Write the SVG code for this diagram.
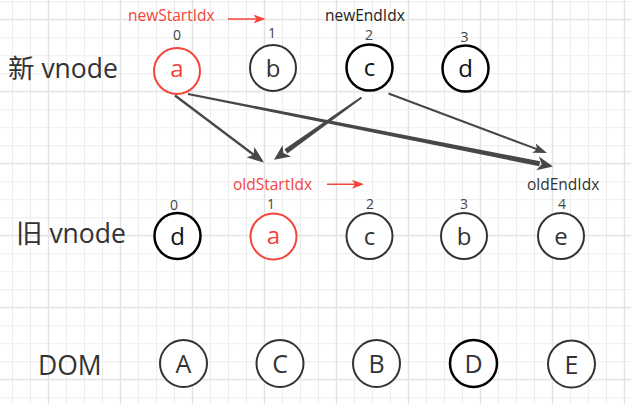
<svg xmlns="http://www.w3.org/2000/svg" width="631" height="404" viewBox="0 0 631 404">
  <defs>
    <pattern id="grid" patternUnits="userSpaceOnUse" x="12" y="1.2" width="72" height="72">
      <path d="M0.5,0V72M18.5,0V72M54.5,0V72M0,0.5H72M0,36.5H72M0,54.5H72" stroke="#ededed" stroke-width="1" fill="none"/>
      <path d="M36.5,0V72M0,18.5H72" stroke="#e2e2e2" stroke-width="1.4" fill="none"/>
    </pattern>
    <marker id="ah" markerUnits="userSpaceOnUse" viewBox="0 0 14 10" markerWidth="14" markerHeight="10" refX="11" refY="5" orient="auto">
      <path d="M0,0 L14,5 L0,10 L3.5,5 z" fill="#474747"/>
    </marker>
    <marker id="ahL" markerUnits="userSpaceOnUse" viewBox="0 0 17 13" markerWidth="17" markerHeight="13" refX="14" refY="6.5" orient="auto">
      <path d="M0,0 L17,6.5 L0,13 L4,6.5 z" fill="#474747"/>
    </marker>
    <marker id="ahR" markerUnits="userSpaceOnUse" viewBox="0 0 12 9" markerWidth="12" markerHeight="9" refX="10" refY="4.5" orient="auto">
      <path d="M0,0 L12,4.5 L0,9 L3,4.5 z" fill="#f5443a"/>
    </marker>
    <style>
      text { font-family: "Open Sans", "Noto Sans CJK SC", sans-serif; fill: #333; }
      .row { font-size: 26.5px; }
      .idx { font-size: 14px; text-anchor: middle; fill: #444; }
      .ptr { font-size: 15.5px; }
      .red { fill: #f5443a; }
      .lbl { font-size: 24px; text-anchor: middle; }
      .dom { font-size: 25px; text-anchor: middle; }
      circle { fill: #fff; stroke-width: 2; }
      .cr { stroke: #f5443a; }
      .cg { stroke: #333; }
      .ck { stroke: #000; stroke-width: 2.5; }
      .conn { fill: #474747; }
    </style>
  </defs>
  <rect width="631" height="404" fill="#fff"/>
  <rect width="631" height="404" fill="url(#grid)"/>

  <!-- row labels -->
  <text class="row" x="8" y="78">新 vnode</text>
  <text class="row" x="16" y="243">旧 vnode</text>
  <text class="row" x="38" y="375" style="font-size:26.5px">DOM</text>

  <!-- pointer labels -->
  <text class="ptr red" x="128" y="21">newStartIdx</text>
  <text class="ptr" x="325" y="21" style="fill:#222">newEndIdx</text>
  <text class="ptr red" x="233" y="190">oldStartIdx</text>
  <text class="ptr" x="527" y="190">oldEndIdx</text>
  <line x1="228" y1="19" x2="263.5" y2="19" stroke="#f5443a" stroke-width="1.5" marker-end="url(#ahR)"/>
  <line x1="327" y1="184.3" x2="362" y2="184.3" stroke="#f5443a" stroke-width="1.5" marker-end="url(#ahR)"/>

  <!-- new vnodes -->
  <g id="new-a"><text class="idx" x="177" y="40">0</text><circle class="cr" cx="177" cy="71" r="23"/><text class="lbl red" x="177" y="77">a</text></g>
  <g id="new-b"><text class="idx" x="272" y="38">1</text><circle class="cg" cx="273" cy="68" r="23"/><text class="lbl" x="273" y="76.5">b</text></g>
  <g id="new-c"><text class="idx" x="369" y="40">2</text><circle class="ck" cx="369.5" cy="67.5" r="23"/><text class="lbl" x="369.5" y="76" style="fill:#111">c</text></g>
  <g id="new-d"><text class="idx" x="464.5" y="41.5">3</text><circle class="ck" cx="465.5" cy="68.5" r="23"/><text class="lbl" x="465.5" y="77" style="fill:#111">d</text></g>

  <!-- old vnodes -->
  <g id="old-d"><text class="idx" x="174" y="210">0</text><circle class="ck" cx="177.5" cy="236" r="23"/><text class="lbl" x="177.5" y="245" style="fill:#111">d</text></g>
  <g id="old-a"><text class="idx" x="271" y="208.5">1</text><circle class="cr" cx="273.5" cy="236.5" r="23"/><text class="lbl red" x="273.5" y="244">a</text></g>
  <g id="old-c"><text class="idx" x="370" y="208.5">2</text><circle class="cg" cx="369.5" cy="236" r="23"/><text class="lbl" x="369.5" y="245">c</text></g>
  <g id="old-b"><text class="idx" x="464" y="208.5">3</text><circle class="cg" cx="464" cy="236" r="23"/><text class="lbl" x="464" y="245">b</text></g>
  <g id="old-e"><text class="idx" x="562" y="208.5">4</text><circle class="cg" cx="561" cy="236" r="23"/><text class="lbl" x="561" y="245">e</text></g>

  <!-- DOM nodes -->
  <g id="dom-A"><circle class="cg" cx="183.5" cy="363.5" r="23.5"/><text class="dom" x="183.5" y="373">A</text></g>
  <g id="dom-C"><circle class="cg" cx="280" cy="363.5" r="23.5"/><text class="dom" x="280" y="373">C</text></g>
  <g id="dom-B"><circle class="cg" cx="376.5" cy="363.5" r="23.5"/><text class="dom" x="376.5" y="373">B</text></g>
  <g id="dom-D"><circle class="ck" cx="473.5" cy="363.5" r="23.5"/><text class="dom" x="473.5" y="373">D</text></g>
  <g id="dom-E"><circle class="cg" cx="571.5" cy="364" r="23.5"/><text class="dom" x="571.5" y="373.5">E</text></g>

  <!-- connectors -->
  <g id="connectors">
    <!-- new a -> oldEnd (tapered) -->
    <polygon class="conn" points="188.2,93.02 540.2,161.35 539.2,166.25 187.8,94.98"/>
    <polygon class="conn" points="553,166.4 536.3,170.3 541.7,164.2 538.9,156.5"/>
    <!-- new a -> old a -->
    <line x1="175" y1="95.5" x2="261.6" y2="160.7" stroke="#474747" stroke-width="2.4" marker-end="url(#ahL)"/>
    <!-- new c -> old a (tapered) -->
    <polygon class="conn" points="360.92,96.69 284.45,149.36 287.35,153.44 362.08,98.31"/>
    <polygon class="conn" points="274,159.8 282.6,145 283.4,153.1 291,156.4"/>
    <!-- new c -> oldEnd -->
    <line x1="388.5" y1="93.5" x2="544.2" y2="151.9" stroke="#474747" stroke-width="2" marker-end="url(#ah)"/>
  </g>
</svg>
